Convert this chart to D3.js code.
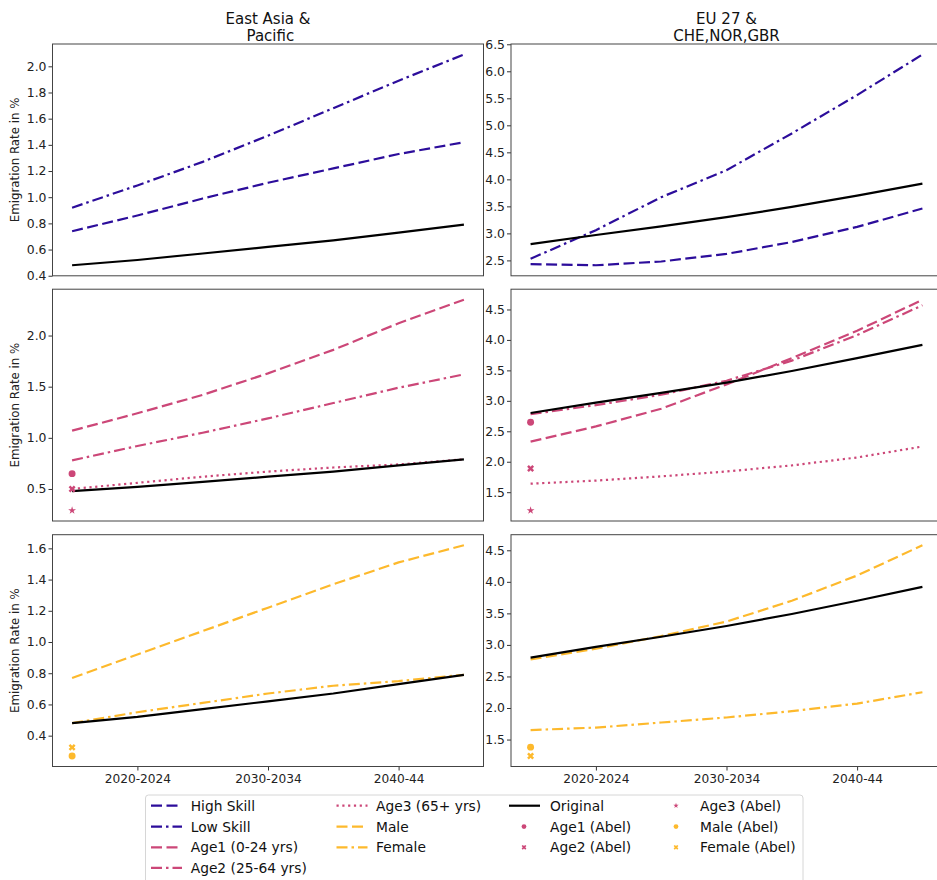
<!DOCTYPE html>
<html>
<head>
<meta charset="utf-8">
<script src="https://cdn.jsdelivr.net/npm/d3@7"></script>
<style>
  body { margin: 0; background: #fff; }
  svg { display: block; font-family: "DejaVu Sans", sans-serif; }
</style>
</head>
<body>
<svg id="chart" width="937" height="880"></svg>
<script>
  // periods (first year of each 5-year step)
  const periods = [2015, 2020, 2025, 2030, 2035, 2040, 2045];
  const abelYear = 2015;
  const xTickYears = [2020, 2030, 2040];
  const xTickLabels = ["2020-2024", "2030-2034", "2040-44"];
  const regionTitles = [["East Asia &", "\u00a0Pacific"], ["EU 27 &", "CHE,NOR,GBR"]];

  // Original projection
  const eapOriginal = [0.48, 0.52, 0.57, 0.62, 0.67, 0.73, 0.79];
  const euOriginal = [2.80, 2.97, 3.13, 3.30, 3.49, 3.70, 3.92];

  // skill
  const eapHighSkill = [0.74, 0.86, 0.99, 1.11, 1.22, 1.33, 1.42];
  const eapLowSkill = [0.92, 1.09, 1.27, 1.47, 1.68, 1.89, 2.09];
  const euHighSkill = [2.43, 2.41, 2.48, 2.62, 2.84, 3.12, 3.46];
  const euLowSkill = [2.53, 3.06, 3.67, 4.17, 4.85, 5.56, 6.31];

  // age
  const eapAge1 = [1.07, 1.24, 1.42, 1.63, 1.86, 2.12, 2.35];
  const eapAge2 = [0.78, 0.92, 1.05, 1.19, 1.34, 1.49, 1.62];
  const eapAge3 = [0.50, 0.56, 0.62, 0.67, 0.71, 0.74, 0.79];
  const euAge1 = [2.33, 2.58, 2.87, 3.27, 3.70, 4.15, 4.66];
  const euAge2 = [2.78, 2.93, 3.10, 3.33, 3.66, 4.08, 4.57];
  const euAge3 = [1.64, 1.69, 1.76, 1.84, 1.94, 2.07, 2.25];

  // sex
  const eapMale = [0.77, 0.92, 1.07, 1.22, 1.37, 1.51, 1.62];
  const eapFemale = [0.48, 0.55, 0.61, 0.67, 0.72, 0.75, 0.79];
  const euMale = [2.77, 2.94, 3.14, 3.37, 3.70, 4.10, 4.58];
  const euFemale = [1.65, 1.69, 1.77, 1.85, 1.95, 2.07, 2.25];

  // Abel estimates (Age1, Age2, Age3) and (Male, Female)
  const eapAbelAge = [0.65, 0.50, 0.29];
  const euAbelAge = [2.65, 1.89, 1.20];
  const eapAbelSex = [0.27, 0.325];
  const euAbelSex = [1.38, 1.24];

  // y tick values
  const yTicksSkill = [[0.4, 0.6, 0.8, 1.0, 1.2, 1.4, 1.6, 1.8, 2.0], [2.5, 3.0, 3.5, 4.0, 4.5, 5.0, 5.5, 6.0, 6.5]];
  const yTicksAge = [[0.5, 1.0, 1.5, 2.0], [1.5, 2.0, 2.5, 3.0, 3.5, 4.0, 4.5]];
  const yTicksSex = [[0.4, 0.6, 0.8, 1.0, 1.2, 1.4, 1.6], [1.5, 2.0, 2.5, 3.0, 3.5, 4.0, 4.5]];

  const C_SKILL = "#2c0d9b";
  const C_AGE = "#cc4778";
  const C_SEX = "#fdb92c";
  const DASHED = "11,4.5";
  const DASHDOT = "11,4,2.5,4";
  const DOTTED = "2.2,3.6";

  const rows = [
    {
      yTicks: yTicksSkill,
      lines: [
        [{ values: eapHighSkill, color: C_SKILL, dash: DASHED }, { values: eapLowSkill, color: C_SKILL, dash: DASHDOT }],
        [{ values: euHighSkill, color: C_SKILL, dash: DASHED }, { values: euLowSkill, color: C_SKILL, dash: DASHDOT }],
      ],
      abel: [[], []],
    },
    {
      yTicks: yTicksAge,
      lines: [
        [{ values: eapAge1, color: C_AGE, dash: DASHED }, { values: eapAge2, color: C_AGE, dash: DASHDOT }, { values: eapAge3, color: C_AGE, dash: DOTTED }],
        [{ values: euAge1, color: C_AGE, dash: DASHED }, { values: euAge2, color: C_AGE, dash: DASHDOT }, { values: euAge3, color: C_AGE, dash: DOTTED }],
      ],
      abel: [
        eapAbelAge.map((v, i) => ({ value: v, color: C_AGE, symbol: ["circle", "x", "star"][i] })),
        euAbelAge.map((v, i) => ({ value: v, color: C_AGE, symbol: ["circle", "x", "star"][i] })),
      ],
    },
    {
      yTicks: yTicksSex,
      lines: [
        [{ values: eapMale, color: C_SEX, dash: DASHED }, { values: eapFemale, color: C_SEX, dash: DASHDOT }],
        [{ values: euMale, color: C_SEX, dash: DASHED }, { values: euFemale, color: C_SEX, dash: DASHDOT }],
      ],
      abel: [
        eapAbelSex.map((v, i) => ({ value: v, color: C_SEX, symbol: ["circle", "x"][i] })),
        euAbelSex.map((v, i) => ({ value: v, color: C_SEX, symbol: ["circle", "x"][i] })),
      ],
    },
  ];
  const originals = [eapOriginal, euOriginal];

  const svg = d3.select("#chart");
  const colX = [52.5, 511];
  const rowY = [44, 289.2, 534.7];
  const pw = 431, ph = 231.8;

  function symbolPath(name, size) {
    if (name === "circle") return d3.symbol(d3.symbolCircle, size)();
    if (name === "star") return d3.symbol(d3.symbolStar, size * 0.5)();
    return d3.symbol(d3.symbolCross, size * 0.8)();
  }
  function symbolRotate(name) {
    return name === "x" ? " rotate(45)" : "";
  }

  const x = d3.scaleLinear().domain([2013.5, 2046.5]).range([0, pw]);

  rows.forEach((row, r) => {
    [0, 1].forEach((c) => {
      const g = svg.append("g").attr("transform", `translate(${colX[c]},${rowY[r]})`);
      const series = row.lines[c];
      const all = series.flatMap((s) => s.values).concat(originals[c], row.abel[c].map((a) => a.value));
      const [lo, hi] = d3.extent(all);
      const pad = (hi - lo) * 0.05;
      const y = d3.scaleLinear().domain([lo - pad, hi + pad]).range([ph, 0]);

      const line = d3.line().x((d, i) => x(periods[i])).y((d) => y(d));

      g.selectAll("path.series")
        .data(series)
        .join("path")
        .attr("class", "series")
        .attr("d", (s) => line(s.values))
        .attr("fill", "none")
        .attr("stroke", (s) => s.color)
        .attr("stroke-width", 2.2)
        .attr("stroke-dasharray", (s) => s.dash);

      g.append("path")
        .attr("d", line(originals[c]))
        .attr("fill", "none")
        .attr("stroke", "#000")
        .attr("stroke-width", 2.2);

      g.selectAll("path.abel")
        .data(row.abel[c])
        .join("path")
        .attr("class", "abel")
        .attr("d", (a) => symbolPath(a.symbol, 38))
        .attr("transform", (a) => `translate(${x(abelYear)},${y(a.value)})${symbolRotate(a.symbol)}`)
        .attr("fill", (a) => a.color);

      const ya = g.append("g")
        .call(d3.axisLeft(y).tickValues(row.yTicks[c]).tickFormat(d3.format(".1f")).tickSize(4).tickPadding(2));
      ya.select(".domain").remove();
      ya.selectAll("line").attr("stroke", "#333");
      ya.selectAll("text").attr("font-size", 12.4).attr("fill", "#222").attr("font-family", "DejaVu Sans");

      if (r === 2) {
        const xa = g.append("g")
          .attr("transform", `translate(0,${ph})`)
          .call(d3.axisBottom(x).tickValues(xTickYears).tickFormat((d, i) => xTickLabels[i]).tickSize(4).tickPadding(4.3));
        xa.select(".domain").remove();
        xa.selectAll("line").attr("stroke", "#333");
        xa.selectAll("text").attr("font-size", 12.2).attr("fill", "#222").attr("font-family", "DejaVu Sans");
      }

      g.append("rect")
        .attr("width", pw)
        .attr("height", ph)
        .attr("fill", "none")
        .attr("stroke", "#444")
        .attr("stroke-width", 1);

      if (r === 0) {
        regionTitles[c].forEach((t, k) => {
          svg.append("text")
            .attr("x", colX[c] + pw / 2)
            .attr("y", 23.5 + k * 17)
            .attr("text-anchor", "middle")
            .attr("font-size", 15)
            .attr("fill", "#111")
            .text(t);
        });
      }
      if (c === 0) {
        svg.append("text")
          .attr("transform", `translate(15,${rowY[r] + ph / 2}) rotate(-90)`)
          .attr("text-anchor", "middle")
          .attr("dominant-baseline", "central")
          .attr("font-size", 11.8)
          .attr("fill", "#222")
          .text("Emigration Rate in %");
      }
    });
  });

  // legend
  const legendItems = [
    { label: "High Skill", color: C_SKILL, dash: DASHED },
    { label: "Low Skill", color: C_SKILL, dash: DASHDOT },
    { label: "Age1 (0-24 yrs)", color: C_AGE, dash: DASHED },
    { label: "Age2 (25-64 yrs)", color: C_AGE, dash: DASHDOT },
    { label: "Age3 (65+ yrs)", color: C_AGE, dash: DOTTED },
    { label: "Male", color: C_SEX, dash: DASHED },
    { label: "Female", color: C_SEX, dash: DASHDOT },
    { label: "Original", color: "#000", dash: null },
    { label: "Age1 (Abel)", color: C_AGE, symbol: "circle" },
    { label: "Age2 (Abel)", color: C_AGE, symbol: "x" },
    { label: "Age3 (Abel)", color: C_AGE, symbol: "star" },
    { label: "Male (Abel)", color: C_SEX, symbol: "circle" },
    { label: "Female (Abel)", color: C_SEX, symbol: "x" },
  ];
  const legendCols = [
    { handle: 151, text: 190.7, n: 4 },
    { handle: 336.5, text: 376, n: 3 },
    { handle: 509, text: 550, n: 3 },
    { handle: 661, text: 700, n: 3 },
  ];
  const legendRowY = [805.7, 826.6, 847.3, 867.9];

  svg.append("rect")
    .attr("x", 145.5).attr("y", 795).attr("width", 657.5).attr("height", 100)
    .attr("rx", 3).attr("fill", "#fff").attr("stroke", "#d6d6d6").attr("stroke-width", 1);

  let idx = 0;
  legendCols.forEach((col) => {
    for (let k = 0; k < col.n; k++) {
      const it = legendItems[idx++];
      const yy = legendRowY[k];
      if (it.symbol) {
        svg.append("path")
          .attr("d", symbolPath(it.symbol, 18))
          .attr("transform", `translate(${col.handle + 15},${yy})${symbolRotate(it.symbol)}`)
          .attr("fill", it.color);
      } else {
        svg.append("line")
          .attr("x1", col.handle).attr("x2", col.handle + 31)
          .attr("y1", yy).attr("y2", yy)
          .attr("stroke", it.color).attr("stroke-width", 2.2)
          .attr("stroke-dasharray", it.dash);
      }
      svg.append("text")
        .attr("x", col.text).attr("y", yy)
        .attr("dominant-baseline", "central")
        .attr("font-size", 13.8).attr("fill", "#111")
        .text(it.label);
    }
  });
</script>
</body>
</html>
